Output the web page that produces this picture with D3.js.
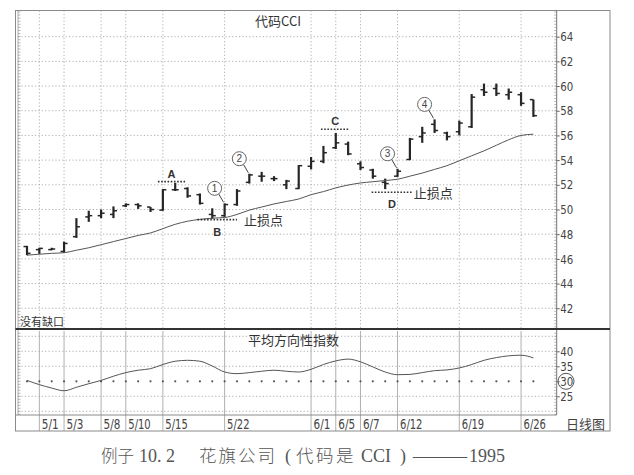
<!DOCTYPE html>
<html><head><meta charset="utf-8">
<script src="https://cdn.jsdelivr.net/npm/d3@7"></script>
<style>body{margin:0;background:#fff}svg{display:block}</style>
</head><body><svg id="c" width="634" height="475"></svg>
<script>
// ---------------- data ----------------
const dates = ["4/28","5/1","5/2","5/3","5/4","5/5","5/8","5/9","5/10","5/11","5/12","5/15","5/16","5/17","5/18","5/19","5/22","5/23","5/24","5/25","5/26","5/30","5/31","6/1","6/2","6/5","6/6","6/7","6/8","6/9","6/12","6/13","6/14","6/15","6/16","6/19","6/20","6/21","6/22","6/23","6/26","6/27"];
const opens  = [47.0,46.75,46.75,46.6,47.8,49.4,49.5,49.6,50.3,50.4,50.2,49.95,51.6,51.7,51.2,49.6,49.5,50.4,52.2,52.7,52.5,52.0,51.7,53.5,53.9,55.0,55.3,53.7,53.2,52.2,52.7,54.05,55.9,56.9,56.2,56.3,56.7,59.7,59.8,59.3,59.3,58.9];
const highs  = [47.05,46.9,46.9,47.4,49.3,49.9,50.0,50.25,50.5,50.5,50.2,51.65,52.15,51.8,51.3,50.1,50.5,51.65,52.9,53.05,52.7,52.4,53.6,54.25,55.15,56.2,55.5,53.9,53.3,52.5,53.3,55.8,56.7,57.3,56.3,57.2,59.35,60.2,60.2,59.8,59.5,58.9];
const lows   = [46.3,46.4,46.7,46.5,47.7,49.0,49.3,49.3,50.2,50.05,49.8,49.9,51.5,50.95,50.4,49.25,49.4,50.3,52.1,52.25,52.3,51.65,51.65,53.25,53.75,54.9,54.4,53.2,52.5,51.65,52.65,54.0,55.4,56.2,55.6,56.0,56.6,59.2,59.2,58.9,58.4,57.5];
const closes = [46.45,46.85,46.8,47.25,48.6,49.5,49.7,49.9,50.4,50.3,50.0,51.6,51.6,51.1,50.5,49.5,50.4,51.5,52.8,52.7,52.5,52.3,53.55,53.9,54.6,55.4,54.5,53.4,52.7,52.1,53.1,55.7,56.2,56.4,55.9,57.0,59.1,59.5,59.4,59.5,58.6,57.6];
const movingAvg = [46.3,46.38,46.45,46.5,46.7,46.9,47.15,47.4,47.65,47.9,48.1,48.45,48.8,49.05,49.2,49.3,49.35,49.6,49.95,50.2,50.45,50.65,50.85,51.2,51.45,51.75,51.98,52.15,52.25,52.35,52.45,52.7,52.95,53.25,53.55,53.95,54.35,54.75,55.2,55.65,56.0,56.1];
const adx = [30.3,28.9,27.75,26.85,28.0,29.2,30.3,31.7,32.9,33.7,34.2,35.6,36.7,37.0,36.7,35.1,33.1,32.55,32.9,33.35,33.7,33.35,33.1,34.0,35.6,36.8,37.4,36.5,34.8,33.1,32.2,32.3,32.9,33.55,33.8,34.45,35.6,37.0,37.9,38.5,38.7,37.8];
const dateTicks = ["5/1","5/3","5/8","5/10","5/15","5/22","6/1","6/5","6/7","6/12","6/19","6/26"];
const priceTicks = [42,44,46,48,50,52,54,56,58,60,62,64];
const adxTicks = [25,30,35,40];
const adxGrid = [20,25,35,40,45];
const adxRefLevel = 30;
// level annotations: label, price level, span (in trading-day index units)
const levelMarks = [
  {label:"A", value:52.26, from:10.6, to:12.8, side:"above"},
  {label:"B", value:49.18, from:13.8, to:17.0, side:"below", note:"止损点"},
  {label:"C", value:56.5,  from:23.8, to:26.1, side:"above"},
  {label:"D", value:51.4,  from:27.9, to:31.2, side:"below", note:"止损点"}
];
const signals = [{n:"1", date:"5/22"},{n:"2", date:"5/24"},{n:"3", date:"6/12"},{n:"4", date:"6/15"}];

// ---------------- layout ----------------
const svg = d3.select("#c");
const OL=15.5, OR=610, T=10.5, SEP=329, P2T=331, P2B=415, BOT=431;
const L=18, R=556.7;
const NUM = "'Liberation Sans Narrow','DejaVu Sans Condensed','Arial Narrow','Liberation Sans',sans-serif";
const CJK = "'Noto Sans CJK SC','Noto Sans',sans-serif";
const SERIF = "'Liberation Serif','DejaVu Serif',serif";
const ink = "#262626", grid = "#9a9a9a", txt = "#444";

const idx = d => dates.indexOf(d);
const x  = d3.scaleLinear().domain([0, dates.length-1]).range([27, 533.4]);
const y  = d3.scaleLinear().domain([40.32, 66.12]).range([SEP, T]);
const y2 = d3.scaleLinear().domain([18.77, 46.77]).range([P2B, P2T]);

svg.append("rect").attr("width",634).attr("height",475).attr("fill","#fff");

// ----- top panel grid -----
const gTop = svg.append("g");
gTop.selectAll(".hg").data(priceTicks).join("line")
  .attr("x1",L).attr("x2",R).attr("y1",d=>y(d)).attr("y2",d=>y(d))
  .attr("stroke",grid).attr("stroke-width",0.8).attr("stroke-dasharray","1.2,2.2");
gTop.selectAll(".vg").data(dateTicks).join("line")
  .attr("x1",d=>x(idx(d))).attr("x2",d=>x(idx(d))).attr("y1",T).attr("y2",SEP)
  .attr("stroke",grid).attr("stroke-width",0.8).attr("stroke-dasharray","1.2,2.2");

// ----- bottom panel grid -----
const gBot = svg.append("g");
gBot.selectAll("line.h").data(adxGrid).join("line")
  .attr("x1",L).attr("x2",R).attr("y1",d=>y2(d)).attr("y2",d=>y2(d))
  .attr("stroke",grid).attr("stroke-width",0.8).attr("stroke-dasharray","1.2,2.2");
gBot.append("g").selectAll("line").data(dateTicks).join("line")
  .attr("x1",d=>x(idx(d))).attr("x2",d=>x(idx(d))).attr("y1",P2T).attr("y2",BOT)
  .attr("stroke","#b0b0b0").attr("stroke-width",1);
gBot.append("g").selectAll("circle").data(dates).join("circle")
  .attr("cx",(d,i)=>x(i)).attr("cy",y2(adxRefLevel)).attr("r",1.1).attr("fill","#555");

// ----- frames -----
svg.append("rect").attr("x",OL).attr("y",T).attr("width",OR-OL).attr("height",BOT-T)
  .attr("fill","none").attr("stroke","#8a8a8a").attr("stroke-width",1);
svg.append("line").attr("x1",R).attr("x2",R).attr("y1",T).attr("y2",P2B).attr("stroke","#777").attr("stroke-width",1);
svg.append("line").attr("x1",L).attr("x2",L).attr("y1",T).attr("y2",P2B).attr("stroke","#999").attr("stroke-width",0.8);
svg.append("line").attr("x1",OL).attr("x2",OR).attr("y1",SEP).attr("y2",SEP).attr("stroke","#333").attr("stroke-width",1.8);
svg.append("line").attr("x1",OL).attr("x2",R).attr("y1",P2B).attr("y2",P2B).attr("stroke","#8a8a8a").attr("stroke-width",1);

// ruler-like minor ticks
const minorTop = d3.range(40.5, 66.1, 0.25);
const minorBot = d3.range(19, 46.6, 1);
[[R,-1],[L,1]].forEach(([xx,dir])=>{
  svg.append("g").selectAll("line").data(minorTop).join("line")
    .attr("x1",xx).attr("x2",xx+dir*2.5).attr("y1",d=>y(d)).attr("y2",d=>y(d))
    .attr("stroke","#888").attr("stroke-width",0.6);
  svg.append("g").selectAll("line").data(minorBot).join("line")
    .attr("x1",xx).attr("x2",xx+dir*2.5).attr("y1",d=>y2(d)).attr("y2",d=>y2(d))
    .attr("stroke","#888").attr("stroke-width",0.6);
});

// ----- axes -----
const axT = svg.append("g").attr("transform",`translate(${R},0)`)
  .call(d3.axisRight(y).tickValues(priceTicks).tickSize(3).tickPadding(0.5).tickFormat(d3.format("d")));
const axB = svg.append("g").attr("transform",`translate(${R},0)`)
  .call(d3.axisRight(y2).tickValues(adxTicks).tickSize(3).tickPadding(0.5).tickFormat(d3.format("d")));
[axT,axB].forEach(a=>{
  a.select(".domain").remove();
  a.selectAll("line").attr("stroke","#666");
  a.selectAll("text").attr("font-family",NUM).attr("font-size",13).attr("fill",txt)
    .attr("textLength",13).attr("lengthAdjust","spacingAndGlyphs");
});
svg.append("circle").attr("cx",566).attr("cy",y2(adxRefLevel)).attr("r",8)
  .attr("fill","none").attr("stroke","#555").attr("stroke-width",1);

// date labels
svg.append("g").selectAll("text").data(dateTicks).join("text")
  .attr("x",d=>x(idx(d))+2.5).attr("y",428.5)
  .attr("font-family",NUM).attr("font-size",14).attr("fill",txt)
  .attr("textLength",d=>d.length*5.6).attr("lengthAdjust","spacingAndGlyphs").text(d=>d);
svg.append("text").attr("x",566).attr("y",428.5).attr("font-family",CJK).attr("font-size",13).attr("fill",txt).text("日线图");

// ----- price bars -----
const bars = svg.append("g");
dates.forEach((d,i)=>{
  const g = bars.append("g");
  g.append("line").attr("x1",x(i)).attr("x2",x(i)).attr("y1",y(highs[i])).attr("y2",y(lows[i]))
    .attr("stroke",ink).attr("stroke-width",2.2);
  g.append("line").attr("x1",x(i)-3.5).attr("x2",x(i)).attr("y1",y(opens[i])).attr("y2",y(opens[i]))
    .attr("stroke",ink).attr("stroke-width",1.5);
  g.append("line").attr("x1",x(i)).attr("x2",x(i)+3.5).attr("y1",y(closes[i])).attr("y2",y(closes[i]))
    .attr("stroke",ink).attr("stroke-width",1.5);
});

// moving average
svg.append("path").datum(movingAvg)
  .attr("d", d3.line().x((d,i)=>x(i)).y(d=>y(d)).curve(d3.curveMonotoneX))
  .attr("fill","none").attr("stroke","#555").attr("stroke-width",1);

// ADX
svg.append("path").datum(adx)
  .attr("d", d3.line().x((d,i)=>x(i)).y(d=>y2(d)).curve(d3.curveMonotoneX))
  .attr("fill","none").attr("stroke","#555").attr("stroke-width",1);

// ----- annotations -----
levelMarks.forEach(m=>{
  const x1 = x(m.from), x2 = x(m.to), yy = y(m.value);
  svg.append("line").attr("x1",x1).attr("x2",x2).attr("y1",yy).attr("y2",yy)
    .attr("stroke","#333").attr("stroke-width",1.6).attr("stroke-dasharray","1.6,1.6");
  const cx = (x1+x2)/2;
  svg.append("text").attr("x",cx).attr("y", m.side==="above" ? yy-4 : yy+16)
    .attr("text-anchor","middle").attr("font-family","'Liberation Sans',sans-serif")
    .attr("font-weight","bold").attr("font-size",11).attr("fill","#333").text(m.label);
  if (m.note) {
    svg.append("text").attr("x",x2+ (m.label==="B"?7:1.5)).attr("y",yy+5.5)
      .attr("font-family",CJK).attr("font-size",13).attr("fill","#333").text(m.note);
  }
});
signals.forEach(s=>{
  const i = idx(s.date);
  const bx = x(i), by = y(highs[i]);
  const cx = bx-10, cy = by-15, r = 7;
  svg.append("line").attr("x1",cx+4).attr("y1",cy+5.5).attr("x2",bx-1).attr("y2",by-1)
    .attr("stroke","#444").attr("stroke-width",1);
  svg.append("circle").attr("cx",cx).attr("cy",cy).attr("r",r)
    .attr("fill","#fff").attr("stroke","#666").attr("stroke-width",1);
  svg.append("text").attr("x",cx).attr("y",cy+3.5).attr("text-anchor","middle")
    .attr("font-family","'Liberation Sans',sans-serif").attr("font-size",10).attr("fill","#444").text(s.n);
});

// titles
svg.append("text").attr("x",255).attr("y",25.5).attr("font-family",CJK).attr("font-size",13).attr("fill","#333").text("代码CCI");
svg.append("text").attr("x",248).attr("y",345).attr("font-family",CJK).attr("font-size",13).attr("fill","#333").text("平均方向性指数");
svg.append("text").attr("x",20).attr("y",325.5).attr("font-family",CJK).attr("font-size",11).attr("fill","#333").text("没有缺口");

// caption
const cap = svg.append("text").attr("y",462).attr("font-size",18).attr("fill","#555").attr("font-family",SERIF);
cap.append("tspan").attr("x",101).attr("font-family",CJK).attr("font-size",16.5).attr("font-weight",300).text("例子");
cap.append("tspan").attr("x",139).text("10. 2");
cap.append("tspan").attr("x",199).attr("font-family",CJK).attr("font-size",17.5).attr("font-weight",300).attr("letter-spacing",2).text("花旗公司");
cap.append("tspan").attr("x",285).text("(");
cap.append("tspan").attr("x",296).attr("font-family",CJK).attr("font-size",17.5).attr("font-weight",300).attr("letter-spacing",2.5).text("代码是");
cap.append("tspan").attr("x",361).text("CCI");
cap.append("tspan").attr("x",400).text(")");
cap.append("tspan").attr("x",413).attr("textLength",54).attr("lengthAdjust","spacingAndGlyphs").text("——");
cap.append("tspan").attr("x",469).text("1995");
</script></body></html>
